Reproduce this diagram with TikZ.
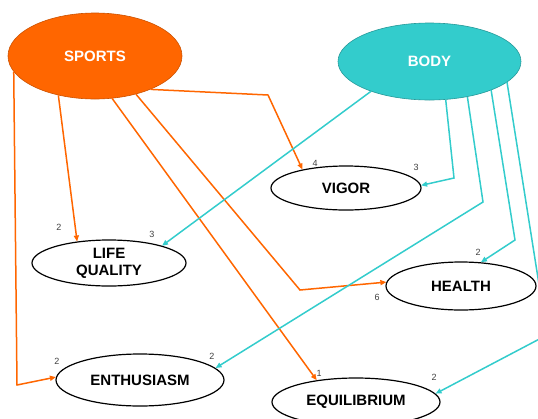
\documentclass[tikz,border=0pt]{standalone}
\usepackage{fontspec}
\setmainfont{Liberation Sans}
\usetikzlibrary{shapes.geometric,arrows.meta}
\definecolor{sportsorange}{HTML}{FF6600}
\definecolor{bodyteal}{HTML}{33CCCC}
\begin{document}
\begin{tikzpicture}[x=1pt,y=-1pt,
    factor/.style={ellipse,draw=black,line width=1.2pt,inner sep=0pt,align=center,
      font=\fontsize{15}{17}\selectfont\bfseries},
    latent/.style={ellipse,inner sep=0pt,line width=0.6pt,text=white,
      font=\fontsize{15}{17}\selectfont\bfseries},
    sportsline/.style={draw=sportsorange,line width=1.5pt,-{Triangle[length=6pt,width=5pt]}},
    bodyline/.style={draw=bodyteal,line width=1.5pt,-{Triangle[length=6pt,width=5pt]}},
    weight/.style={font=\fontsize{9}{9}\selectfont,text=black!75,inner sep=0pt}]
  \useasboundingbox (0,0) rectangle (538,418);
  % latent factors
  \node[latent,fill=sportsorange,draw=sportsorange!80!black,minimum width=174pt,minimum height=86pt] (sports) at (95,56) {SPORTS};
  \node[latent,fill=bodyteal,draw=bodyteal!75!black,minimum width=183pt,minimum height=77pt] (body) at (429.5,61.5) {BODY};
  % outcomes
  \node[factor,minimum width=150pt,minimum height=44pt] (vigor) at (346,188) {VIGOR};
  \node[factor,minimum width=154pt,minimum height=46pt] (life) at (109,263) {LIFE\\QUALITY};
  \node[factor,minimum width=168pt,minimum height=52pt] (enth) at (140,380) {ENTHUSIASM};
  \node[factor,minimum width=150pt,minimum height=48pt] (health) at (461,286) {HEALTH};
  \node[factor,minimum width=168pt,minimum height=48pt] (equi) at (356,402) {EQUILIBRIUM};
  % sports paths
  \draw[sportsline] (sports.191) -- (17,385) -- (enth.178);
  \draw[sportsline] (sports.227) -- (life.146);
  \draw[sportsline] (sports.329) -- (268,95) -- (vigor.157);
  \draw[sportsline] (sports.292) -- (equi.151);
  \draw[sportsline] (sports.317) -- (300,290) -- (health.177);
  % body paths
  \draw[bodyline] (body.207) -- (life.18);
  \draw[bodyline] (body.293) -- (454,178) -- (vigor.2);
  \draw[bodyline] (body.317) -- (483,202) -- (enth.9);
  \draw[bodyline] (body.335) -- (515,240) -- (health.50);
  \draw[bodyline] (body.345) -- (547,335) -- (equi.6);
  % weights
  \node[weight] (vigorA) at (315,163) {4};
  \node[weight] (vigorB) at (416,167) {3};
  \node[weight] (lifeA) at (59,227) {2};
  \node[weight] (lifeB) at (152,234) {3};
  \node[weight] (enthA) at (57,361) {2};
  \node[weight] (enthB) at (212,356) {2};
  \node[weight] (healthA) at (478,252) {2};
  \node[weight] (healthB) at (377,297) {6};
  \node[weight] (equiA) at (319,373) {1};
  \node[weight] (equiB) at (434,377) {2};
\end{tikzpicture}
\end{document}
